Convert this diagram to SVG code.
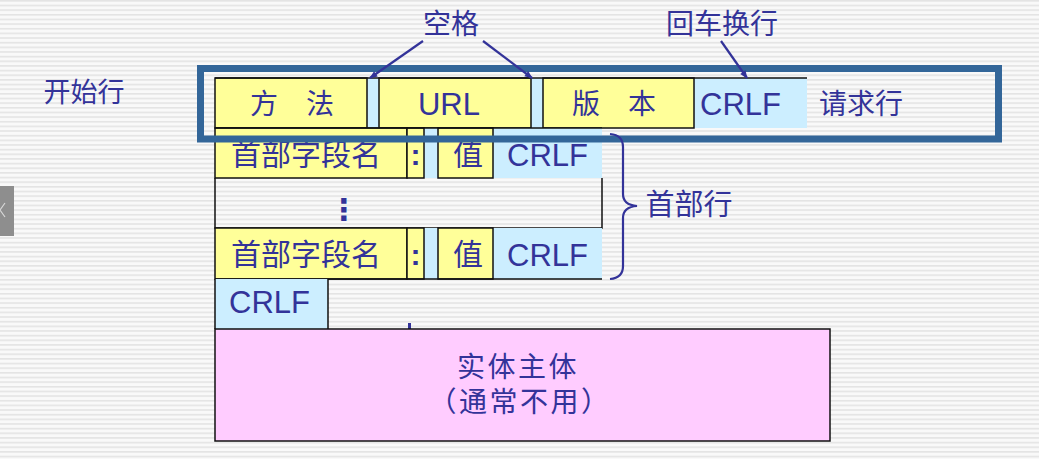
<svg xmlns="http://www.w3.org/2000/svg" width="1039" height="459" viewBox="0 0 1039 459">
<defs>
<pattern id="stripes" width="20" height="4.65" patternUnits="userSpaceOnUse">
<rect width="20" height="4.65" fill="#f9f9f9"/>
<rect y="0" width="20" height="1.6" fill="#e4e4e4"/>
</pattern>
<marker id="arr" viewBox="0 0 10 10" refX="9" refY="5" markerWidth="9" markerHeight="8" orient="auto" markerUnits="userSpaceOnUse">
<path d="M0,1 L10,5 L0,9 Z" fill="#333399"/>
</marker>
<style>
.t{font-family:"Liberation Sans","Noto Sans CJK SC",sans-serif;fill:#333399}
.cjk{font-family:"Noto Sans CJK SC","Liberation Sans",sans-serif;fill:#333399}
.y{fill:#ffff99;stroke:#111;stroke-width:1.5}
.b{fill:#cceeff}
.p{fill:#ffccff;stroke:#111;stroke-width:1.5}
.ln{stroke:#111;stroke-width:1.5;fill:none}
.c{stroke:#333399;stroke-width:2.2;fill:none}
</style>
</defs>
<rect width="1039" height="459" fill="url(#stripes)"/>
<g id="side-tab">
<rect x="0" y="186" width="14" height="50" fill="#8e8e8e"/>
<path d="M5,203 L0,210 L5,217" stroke="#d8d8d8" stroke-width="1.2" fill="none"/>
</g>

<g id="request-line">
<rect class="b" x="367" y="78" width="12" height="50"/>
<rect class="b" x="531" y="78" width="12" height="50"/>
<rect class="b" x="694" y="78" width="113" height="50"/>
<rect class="y" x="215" y="78" width="152" height="50"/>
<rect class="y" x="379" y="78" width="152" height="50"/>
<rect class="y" x="543" y="78" width="151" height="50"/>
<line class="ln" x1="215" y1="78" x2="807" y2="78"/>
<text class="cjk" x="292" y="114" font-size="28" text-anchor="middle">方　法</text>
<text class="t" x="449" y="115" font-size="31" text-anchor="middle">URL</text>
<text class="cjk" x="614" y="114" font-size="28" text-anchor="middle">版　本</text>
<text class="t" x="700" y="115" font-size="31">CRLF</text>
</g>

<g id="header-1">
<rect class="b" x="424" y="128" width="14" height="50"/>
<rect class="b" x="493" y="128" width="109" height="50"/>
<rect class="y" x="215" y="128" width="192" height="50"/>
<rect class="y" x="407" y="128" width="17" height="50"/>
<rect class="y" x="438" y="128" width="55" height="50"/>
<line class="ln" x1="215" y1="128" x2="602" y2="128"/>
<text class="cjk" x="306" y="165" font-size="30" text-anchor="middle">首部字段名</text>
<text class="t" x="415.5" y="165" font-size="30" font-weight="bold" text-anchor="middle">:</text>
<text class="cjk" x="468" y="165" font-size="30" text-anchor="middle">值</text>
<text class="t" x="507" y="166" font-size="31">CRLF</text>
</g>

<g id="header-dots">
<path class="ln" d="M215,178 V228 H602 V178"/>
<text x="344" y="220" font-family="DejaVu Sans, sans-serif" font-size="30" font-weight="bold" fill="#333399" text-anchor="middle">⋮</text>
</g>

<g id="header-n">
<rect class="b" x="424" y="228" width="14" height="51"/>
<rect class="b" x="493" y="228" width="109" height="51"/>
<rect class="y" x="215" y="228" width="192" height="51"/>
<rect class="y" x="407" y="228" width="17" height="51"/>
<rect class="y" x="438" y="228" width="55" height="51"/>
<line class="ln" x1="215" y1="279" x2="602" y2="279"/>
<text class="cjk" x="306" y="265" font-size="30" text-anchor="middle">首部字段名</text>
<text class="t" x="415.5" y="265" font-size="30" font-weight="bold" text-anchor="middle">:</text>
<text class="cjk" x="468" y="265" font-size="30" text-anchor="middle">值</text>
<text class="t" x="507" y="266" font-size="31">CRLF</text>
</g>

<g id="blank-line">
<rect class="b" x="215" y="279" width="113" height="50"/>
<path class="ln" d="M215,279 V329 M328,279 V329"/>
<text class="t" x="229" y="313" font-size="31">CRLF</text>
<rect x="408" y="323" width="3" height="6" fill="#333399"/>
</g>

<g id="body">
<rect class="p" x="215" y="329" width="615" height="112"/>
<text class="t" x="518" y="377" font-size="28" letter-spacing="2.5" text-anchor="middle">实体主体</text>
<text class="t" x="520" y="412" font-size="28" letter-spacing="2.5" text-anchor="middle">（通常不用）</text>
</g>

<g id="request-frame">
<rect x="200.5" y="68.5" width="798" height="70.5" fill="none" stroke="#336699" stroke-width="7"/>
</g>

<g id="labels">
<text class="cjk" x="84" y="102" font-size="27" text-anchor="middle">开始行</text>
<text class="cjk" x="451" y="34" font-size="28" text-anchor="middle">空格</text>
<text class="cjk" x="722" y="34" font-size="28" text-anchor="middle">回车换行</text>
<text class="cjk" x="861" y="114" font-size="28" text-anchor="middle">请求行</text>
<text class="cjk" x="689" y="215" font-size="29" text-anchor="middle">首部行</text>
</g>

<g id="connectors">
<line class="c" x1="423" y1="41" x2="370" y2="78" marker-end="url(#arr)"/>
<line class="c" x1="483" y1="41" x2="532" y2="78" marker-end="url(#arr)"/>
<line class="c" x1="721" y1="41" x2="747" y2="78" marker-end="url(#arr)"/>
<path class="c" d="M610,134 Q623,135 623,147 V194 Q623,205 637,206 Q623,207 623,218 V266 Q623,278 610,279"/>
</g>
</svg>
